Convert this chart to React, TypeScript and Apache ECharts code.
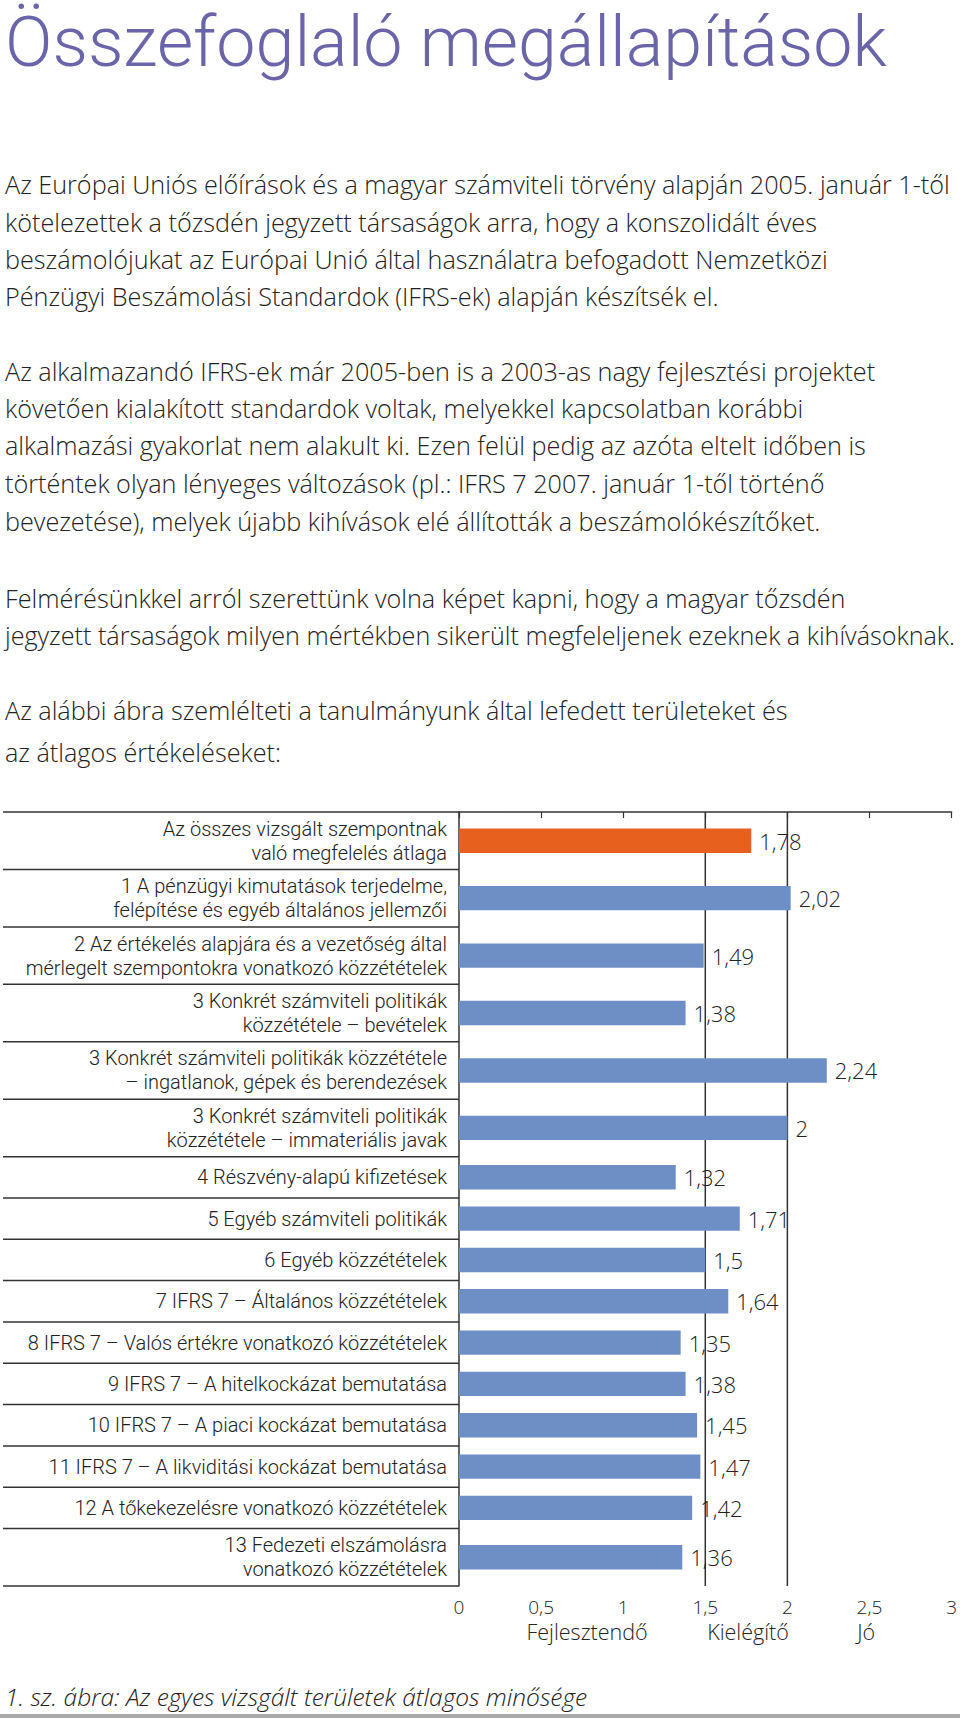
import React, { useEffect, useRef } from "react";
import * as echarts from "echarts";

const TITLE = "Összefoglaló megállapítások";

const PARAGRAPH_LINES = [
  "Az Európai Uniós előírások és a magyar számviteli törvény alapján 2005. január 1-től",
  "kötelezettek a tőzsdén jegyzett társaságok arra, hogy a konszolidált éves",
  "beszámolójukat az Európai Unió által használatra befogadott Nemzetközi",
  "Pénzügyi Beszámolási Standardok (IFRS-ek) alapján készítsék el.",
  "Az alkalmazandó IFRS-ek már 2005-ben is a 2003-as nagy fejlesztési projektet",
  "követően kialakított standardok voltak, melyekkel kapcsolatban korábbi",
  "alkalmazási gyakorlat nem alakult ki. Ezen felül pedig az azóta eltelt időben is",
  "történtek olyan lényeges változások (pl.: IFRS 7 2007. január 1-től történő",
  "bevezetése), melyek újabb kihívások elé állították a beszámolókészítőket.",
  "Felmérésünkkel arról szerettünk volna képet kapni, hogy a magyar tőzsdén",
  "jegyzett társaságok milyen mértékben sikerült megfeleljenek ezeknek a kihívásoknak.",
  "Az alábbi ábra szemlélteti a tanulmányunk által lefedett területeket és",
  "az átlagos értékeléseket:",
];

const CAPTION = "1. sz. ábra: Az egyes vizsgált területek átlagos minősége";

const categories = [
  "Az összes vizsgált szempontnak\nvaló megfelelés átlaga",
  "1 A pénzügyi kimutatások terjedelme,\nfelépítése és egyéb általános jellemzői",
  "2 Az értékelés alapjára és a vezetőség által\nmérlegelt szempontokra vonatkozó közzétételek",
  "3 Konkrét számviteli politikák\nközzététele – bevételek",
  "3 Konkrét számviteli politikák közzététele\n– ingatlanok, gépek és berendezések",
  "3 Konkrét számviteli politikák\nközzététele – immateriális javak",
  "4 Részvény-alapú kifizetések",
  "5 Egyéb számviteli politikák",
  "6 Egyéb közzétételek",
  "7 IFRS 7 – Általános közzétételek",
  "8 IFRS 7 – Valós értékre vonatkozó közzétételek",
  "9 IFRS 7 – A hitelkockázat bemutatása",
  "10 IFRS 7 – A piaci kockázat bemutatása",
  "11 IFRS 7 – A likviditási kockázat bemutatása",
  "12 A tőkekezelésre vonatkozó közzétételek",
  "13 Fedezeti elszámolásra\nvonatkozó közzétételek",
];

const values = [1.78, 2.02, 1.49, 1.38, 2.24, 2, 1.32, 1.71, 1.5, 1.64, 1.35, 1.38, 1.45, 1.47, 1.42, 1.36];

const highlightIndex = 0;

const referenceLines = [1.5, 2];

const qualityLabels = ["Fejlesztendő", "Kielégítő", "Jó"];
const qualityValues = [0.78, 1.76, 2.48];

// ---- layout / style ----
const W = 960;
const H = 1720;
const TITLE_FONT = "Roboto, 'Liberation Sans', Arial, sans-serif";
const FONT = "'Open Sans', Roboto, 'Liberation Sans', Arial, sans-serif";
const CAT_FAMILY = "Roboto, 'Liberation Sans', Arial, sans-serif";
const WEIGHT = 300;
const TEXT = "#222222";
const LINE = "#333333";
const ORANGE = "#E8601E";
const BLUE = "#6D8FC5";
const PURPLE = "#6A64A8";
const LINE_Y = [184, 222, 259, 296, 371, 408, 445, 483, 521, 598, 635, 710, 752];
const PARA_FONT = 25.2;
const PARA_MAX_W = 950;
const CAT_FONT = 20;
const CAT_LINE_H = 24;
const CAT_MAX_W = 442;
const ROW_UNIT_SINGLE = 1;
const ROW_UNIT_DOUBLE = 1.39;
const BAR_UNITS = 0.59;

const fmt = (v: number) => String(v).replace(".", ",");

// row geometry in axis units, derived from label line counts
const rowUnits = categories.map((c) => (c.split("\n").length > 1 ? ROW_UNIT_DOUBLE : ROW_UNIT_SINGLE));
const rowStarts: number[] = [];
{
  let acc = 0;
  rowUnits.forEach((u) => {
    rowStarts.push(acc);
    acc += u;
  });
}
const TOTAL_UNITS = rowUnits.reduce((a, b) => a + b, 0);

const txt = (extra: any) => ({
  fill: TEXT,
  fontFamily: FONT,
  fontWeight: WEIGHT,
  align: "left",
  textAlign: "left",
  verticalAlign: "middle",
  textVerticalAlign: "middle",
  ...extra,
});

let measureCtx: CanvasRenderingContext2D | null = null;
const measure = (text: string, size: number, family: string) => {
  if (!measureCtx) measureCtx = document.createElement("canvas").getContext("2d");
  if (!measureCtx) return 0;
  measureCtx.font = `normal ${WEIGHT} ${size}px ${family}`;
  return Math.max(...text.split("\n").map((l) => measureCtx!.measureText(l).width));
};
const fitSize = (text: string, base: number, maxW: number, family: string) => {
  const w = measure(text, base, family);
  return w > maxW && w > 0 ? (base * maxW) / w : base;
};

export default function App() {
  const ref = useRef<HTMLDivElement>(null);

  useEffect(() => {
    if (!ref.current) return;
    const chart = echarts.init(ref.current, undefined, { renderer: "svg" });

    const catSizes = categories.map((c) => fitSize(c, CAT_FONT, CAT_MAX_W, CAT_FAMILY));

    const barData = values.map((v, i) => [
      v,
      rowStarts[i] + rowUnits[i] / 2,
      i,
      rowStarts[i],
      rowStarts[i] + rowUnits[i],
    ]);

    const graphics: any[] = [
      {
        type: "text",
        x: 5,
        y: 42,
        style: txt({ text: TITLE, fill: PURPLE, fontSize: 70, fontFamily: TITLE_FONT }),
      },
      ...PARAGRAPH_LINES.map((t, i) => ({
        type: "text",
        x: 5,
        y: LINE_Y[i],
        style: txt({ text: t, fontSize: fitSize(t, PARA_FONT, PARA_MAX_W, FONT) }),
      })),
      {
        type: "text",
        x: 5,
        y: 1696,
        style: txt({ text: CAPTION, fontSize: 24.5, fontStyle: "italic" }),
      },
      {
        type: "rect",
        shape: { x: 0, y: 1714, width: W, height: 4 },
        style: { fill: "#A9A9A9" },
      },
    ];

    const option: any = {
      animation: false,
      backgroundColor: "#ffffff",
      grid: { left: 459, right: 6, top: 812, bottom: H - 1586, containLabel: false },
      xAxis: {
        type: "value",
        min: 0,
        max: 3,
        interval: 0.5,
        axisLine: { show: true, lineStyle: { color: LINE, width: 1.5 } },
        axisTick: { show: true, length: 6, lineStyle: { color: LINE, width: 1.2 } },
        axisLabel: {
          formatter: (v: number) => fmt(v),
          color: TEXT,
          fontSize: 19,
          fontFamily: FONT,
          fontWeight: WEIGHT,
          margin: 11,
          showMinLabel: true,
          showMaxLabel: true,
        },
        splitLine: { show: false },
      },
      yAxis: {
        type: "value",
        inverse: true,
        min: 0,
        max: TOTAL_UNITS,
        axisLine: { show: true, lineStyle: { color: LINE, width: 1.5 } },
        axisTick: { show: false },
        axisLabel: { show: false },
        splitLine: { show: false },
      },
      graphic: graphics,
      series: [
        {
          type: "custom",
          z: 1,
          clip: false,
          data: referenceLines.map((v) => [v]),
          renderItem: (_p: any, api: any) => {
            const v = api.value(0);
            const top = api.coord([v, 0]);
            const bottom = api.coord([v, TOTAL_UNITS]);
            return {
              type: "line",
              shape: { x1: top[0], y1: top[1], x2: bottom[0], y2: bottom[1] },
              style: { stroke: LINE, lineWidth: 1.5 },
            };
          },
        },
        {
          type: "custom",
          z: 2,
          clip: false,
          data: barData,
          renderItem: (_p: any, api: any) => {
            const v = api.value(0);
            const c = api.value(1);
            const idx = api.value(2);
            const s = api.value(3);
            const e = api.value(4);
            const p0 = api.coord([0, c]);
            const p1 = api.coord([v, c]);
            const h = api.size([0, BAR_UNITS])[1];
            const yStart = api.coord([0, s])[1];
            const yEnd = api.coord([0, e])[1];
            const children: any[] = [
              {
                type: "rect",
                shape: { x: p0[0], y: p0[1] - h / 2, width: p1[0] - p0[0], height: h },
                style: { fill: idx === highlightIndex ? ORANGE : BLUE },
              },
              {
                type: "text",
                x: p1[0] + 8,
                y: p1[1],
                style: txt({ text: fmt(v), fontSize: 22 }),
              },
              {
                type: "text",
                x: p0[0] - 12,
                y: p0[1],
                style: txt({
                  text: categories[idx],
                  fontSize: catSizes[idx],
                  fontFamily: CAT_FAMILY,
                  lineHeight: CAT_LINE_H,
                  align: "right",
                  textAlign: "right",
                }),
              },
              {
                type: "line",
                shape: { x1: 3, y1: yEnd, x2: p0[0], y2: yEnd },
                style: { stroke: LINE, lineWidth: 1.5 },
              },
            ];
            if (idx === 0) {
              children.push({
                type: "line",
                shape: { x1: 3, y1: yStart, x2: p0[0], y2: yStart },
                style: { stroke: LINE, lineWidth: 1.5 },
              });
            }
            return { type: "group", children };
          },
        },
        {
          type: "custom",
          z: 3,
          clip: false,
          data: qualityValues.map((v, i) => [v, TOTAL_UNITS, i]),
          renderItem: (_p: any, api: any) => {
            const v = api.value(0);
            const i = api.value(2);
            const p = api.coord([v, api.value(1)]);
            return {
              type: "text",
              x: p[0],
              y: p[1] + 45,
              style: txt({
                text: qualityLabels[i],
                fontSize: 21.5,
                align: "center",
                textAlign: "center",
              }),
            };
          },
        },
      ],
    };

    chart.setOption(option);
    return () => chart.dispose();
  }, []);

  return (
    <div
      ref={ref}
      style={{ position: "absolute", left: 0, top: 0, width: W, height: H, background: "#fff" }}
    />
  );
}
